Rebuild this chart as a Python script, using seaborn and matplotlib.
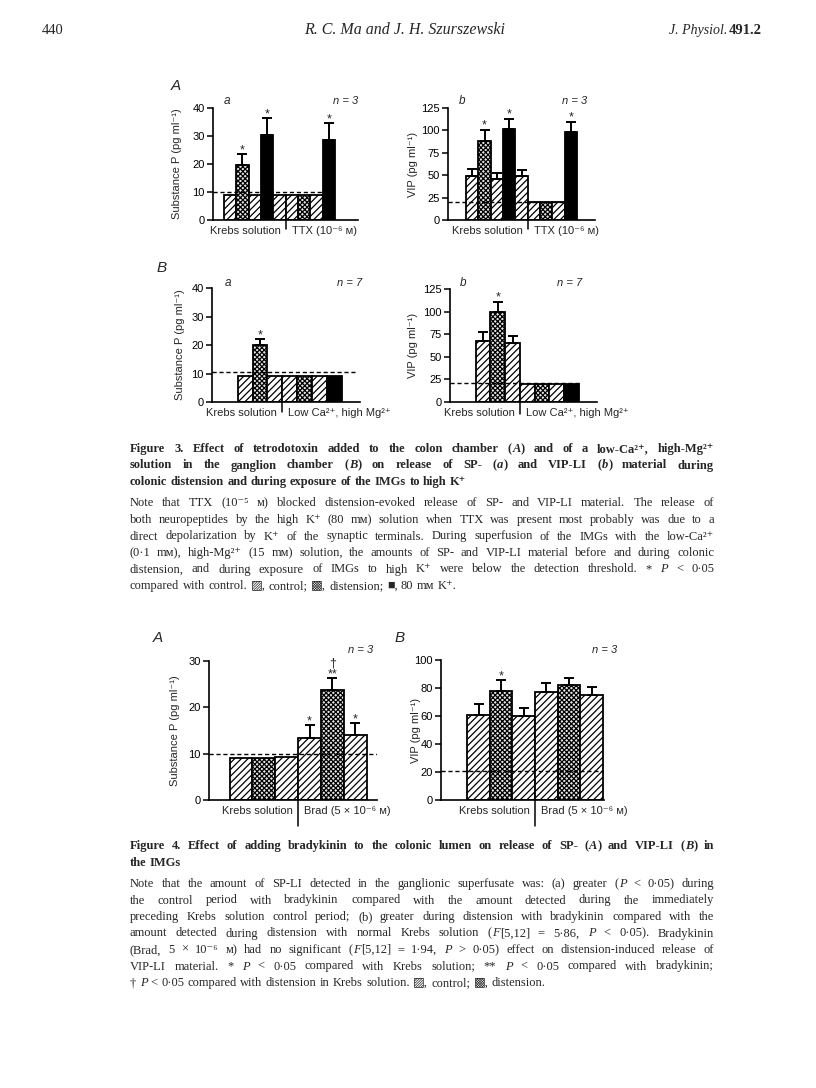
import numpy as np
import pandas as pd
import matplotlib
matplotlib.use('Agg')
import matplotlib.pyplot as plt
import seaborn as sns

W, H = 816, 1088

# ------------------------------------------------------------------
# data (pg/ml, mean and upper s.e.m.)
# ------------------------------------------------------------------
CTRL, DIST, K80 = 'control', 'distension', 'K80'

# Figure 3A: Krebs solution then TTX
fig3a_cond = [CTRL, DIST, CTRL, K80, CTRL, CTRL, DIST, CTRL, K80]
fig3a_sp = [9.0, 19.6, 9.0, 30.2, 9.0, 9.1, 9.1, 9.1, 28.5]
fig3a_sp_err = [0, 3.9, 0, 6.2, 0, 0, 0, 0, 6.1]
fig3a_sp_sig = ['', '*', '', '*', '', '', '', '', '*']
fig3a_vip = [49.3, 88.0, 45.9, 101.5, 49.0, 20.3, 20.3, 20.3, 97.9]
fig3a_vip_err = [7.4, 12.8, 6.3, 11.5, 6.6, 0, 0, 0, 11.8]
fig3a_vip_sig = ['', '*', '', '*', '', '', '', '', '*']
fig3a_groups = ['Krebs solution', 'TTX (10⁻⁶ ᴍ)']
fig3a_group_sizes = [5, 4]
fig3a_sp_thr = 10.1
fig3a_vip_thr = 20.4

# Figure 3B: Krebs solution then low Ca / high Mg
fig3b_cond = [CTRL, DIST, CTRL, CTRL, DIST, CTRL, K80]
fig3b_sp = [9.2, 20.0, 9.2, 9.2, 9.2, 9.2, 9.2]
fig3b_sp_err = [0, 2.0, 0, 0, 0, 0, 0]
fig3b_sp_sig = ['', '*', '', '', '', '', '']
fig3b_vip = [67.9, 100.1, 64.9, 20.4, 20.4, 20.4, 20.4]
fig3b_vip_err = [10.0, 10.8, 8.5, 0, 0, 0, 0]
fig3b_vip_sig = ['', '*', '', '', '', '', '']
fig3b_groups = ['Krebs solution', 'Low Ca²⁺, high Mg²⁺']
fig3b_group_sizes = [3, 4]
fig3b_sp_thr = 10.6
fig3b_vip_thr = 21.5

# Figure 4: Krebs solution then bradykinin
fig4_cond = [CTRL, DIST, CTRL, CTRL, DIST, CTRL]
fig4_sp = [9.0, 9.0, 9.2, 13.3, 23.8, 14.1]
fig4_sp_err = [0, 0, 0, 2.9, 2.5, 2.5]
fig4_sp_sig = ['', '', '', '*', '†\n**', '*']
fig4_vip = [60.7, 77.9, 60.0, 76.9, 82.1, 75.0]
fig4_vip_err = [7.9, 7.8, 5.9, 6.9, 5.3, 6.0]
fig4_vip_sig = ['', '*', '', '', '', '']
fig4_groups = ['Krebs solution', 'Brad (5 × 10⁻⁶ ᴍ)']
fig4_group_sizes = [3, 3]
fig4_sp_thr = 10.0
fig4_vip_thr = 20.5

SP_LABEL = 'Substance P (pg ml⁻¹)'
VIP_LABEL = 'VIP (pg ml⁻¹)'

# caption text, "~" toggles italics
fig3_title = [
    'Figure 3. Effect of tetrodotoxin added to the colon chamber (~A~) and of a low-Ca²⁺, high-Mg²⁺',
    'solution in the ganglion chamber (~B~) on release of SP- (~a~) and VIP-LI (~b~) material during',
    'colonic distension and during exposure of the IMGs to high K⁺',
]
fig3_body = [
    'Note that TTX (10⁻⁵ ᴍ) blocked distension-evoked release of SP- and VIP-LI material. The release of',
    'both neuropeptides by the high K⁺ (80 mᴍ) solution when TTX was present most probably was due to a',
    'direct depolarization by K⁺ of the synaptic terminals. During superfusion of the IMGs with the low-Ca²⁺',
    '(0·1 mᴍ), high-Mg²⁺ (15 mᴍ) solution, the amounts of SP- and VIP-LI material before and during colonic',
    'distension, and during exposure of IMGs to high K⁺ were below the detection threshold. * ~P~ < 0·05',
    'compared with control. ▨, control; ▩, distension; ■, 80 mᴍ K⁺.',
]
fig4_title = [
    'Figure 4. Effect of adding bradykinin to the colonic lumen on release of SP- (~A~) and VIP-LI (~B~) in',
    'the IMGs',
]
fig4_body = [
    'Note that the amount of SP-LI detected in the ganglionic superfusate was: (a) greater (~P~ < 0·05) during',
    'the control period with bradykinin compared with the amount detected during the immediately',
    'preceding Krebs solution control period; (b) greater during distension with bradykinin compared with the',
    'amount detected during distension with normal Krebs solution (~F~[5,12] = 5·86, ~P~ < 0·05). Bradykinin',
    '(Brad, 5 × 10⁻⁶ ᴍ) had no significant (~F~[5,12] = 1·94, ~P~ > 0·05) effect on distension-induced release of',
    'VIP-LI material. * ~P~ < 0·05 compared with Krebs solution; ** ~P~ < 0·05 compared with bradykinin;',
    '† ~P~ < 0·05 compared with distension in Krebs solution. ▨, control; ▩, distension.',
]

# ------------------------------------------------------------------
# style
# ------------------------------------------------------------------
SANS = ['Liberation Sans', 'DejaVu Sans']
SERIF = ['Liberation Serif', 'DejaVu Serif', 'DejaVu Sans']
sns.set_theme(style='white')
plt.rcParams['font.family'] = SANS
plt.rcParams['hatch.linewidth'] = 0.9
HATCH = {CTRL: '/////', DIST: 'xxxxxxx', K80: ''}

fig = plt.figure(figsize=(W / 100, H / 100), dpi=100)
fig.patch.set_facecolor('white')


def fx(x, y):
    return x / W, 1 - y / H


def draw_panel(rect, xlim, yticks, ylabel, ylabel_x, cond, vals, errs, sig,
               groups, sizes, thr, thr_end, sep_len, tag, tag_xy, n_text, n_xy):
    l, t, r, b = rect
    ax = fig.add_axes([l / W, 1 - b / H, (r - l) / W, (b - t) / H])
    ax.set_facecolor('none')
    df = pd.DataFrame({'bar': np.arange(len(vals)), 'value': vals})
    sns.barplot(data=df, x='bar', y='value', ax=ax, color='white', saturation=1,
                edgecolor='black', linewidth=1.3, width=1.0, errorbar=None)
    for patch, c in zip(ax.patches, cond):
        patch.set_hatch(HATCH[c])
        if c == K80:
            patch.set_facecolor('black')
        elif c == DIST:
            patch.set_facecolor('#e6e6e6')

    x = np.arange(len(vals))
    v = np.asarray(vals, float)
    e = np.asarray(errs, float)
    m = e > 0
    ax.errorbar(x[m], v[m], yerr=[np.zeros(m.sum()), e[m]], fmt='none',
                ecolor='black', elinewidth=1.4, capsize=3.5, capthick=1.4, zorder=4)
    for xi, vi, ei, s in zip(x, v, e, sig):
        if s:
            ax.annotate(s, (xi, vi + ei), xytext=(0, 1), textcoords='offset pixels',
                        ha='center', va='baseline', fontsize=9, linespacing=0.85,
                        annotation_clip=False)

    ax.hlines(thr, xlim[0], thr_end, colors='black', linestyles=(0, (3, 2)),
              linewidth=1.0, zorder=5)

    ax.set_xlim(*xlim)
    ax.set_ylim(0, yticks[-1])
    ax.set_yticks(yticks)
    ax.set_xticks([])
    ax.set_xlabel('')
    ax.set_ylabel('')
    for s in ['top', 'right']:
        ax.spines[s].set_visible(False)
    for s in ['left', 'bottom']:
        ax.spines[s].set_linewidth(1.2)
        ax.spines[s].set_color('black')
    ax.tick_params(axis='y', left=True, direction='out', length=4, width=1.1,
                   labelsize=8, pad=2, colors='black')

    # group separator and group names under the axis
    sep = sizes[0] - 0.5
    ax.plot([sep, sep], [0, -sep_len / (b - t)], transform=ax.get_xaxis_transform(),
            color='black', lw=1.1, clip_on=False)
    ax.annotate(groups[0], (sep, 0), xycoords=('data', 'axes fraction'), xytext=(-5, -11),
                textcoords='offset pixels', ha='right', va='center', fontsize=8)
    ax.annotate(groups[1], (sep, 0), xycoords=('data', 'axes fraction'), xytext=(6, -11),
                textcoords='offset pixels', ha='left', va='center', fontsize=8)

    fig.text(*fx(ylabel_x, (t + b) / 2), ylabel, rotation=90, ha='center', va='center', fontsize=8)
    if tag:
        fig.text(*fx(*tag_xy), tag, ha='center', va='center', fontsize=8.5, fontstyle='italic')
    fig.text(*fx(*n_xy), n_text, ha='center', va='center', fontsize=8, fontstyle='italic')
    return ax


# Figure 3A
draw_panel((213, 108, 358, 220), (-1.39, 10.37), [0, 10, 20, 30, 40], SP_LABEL, 177,
           fig3a_cond, fig3a_sp, fig3a_sp_err, fig3a_sp_sig, fig3a_groups, fig3a_group_sizes,
           fig3a_sp_thr, 7.5, 9, 'a', (227, 101), 'n = 3', (346, 101))
draw_panel((448, 108, 595, 220), (-1.96, 9.96), [0, 25, 50, 75, 100, 125], VIP_LABEL, 413,
           fig3a_cond, fig3a_vip, fig3a_vip_err, fig3a_vip_sig, fig3a_groups, fig3a_group_sizes,
           fig3a_vip_thr, 7.5, 9, 'b', (462, 101), 'n = 3', (575, 101))
# Figure 3B
draw_panel((212, 288, 360, 402), (-2.22, 7.71), [0, 10, 20, 30, 40], SP_LABEL, 180,
           fig3b_cond, fig3b_sp, fig3b_sp_err, fig3b_sp_sig, fig3b_groups, fig3b_group_sizes,
           fig3b_sp_thr, 7.37, 10, 'a', (228, 283), 'n = 7', (350, 283))
draw_panel((450, 289, 597, 402), (-2.24, 7.72), [0, 25, 50, 75, 100, 125], VIP_LABEL, 413,
           fig3b_cond, fig3b_vip, fig3b_vip_err, fig3b_vip_sig, fig3b_groups, fig3b_group_sizes,
           fig3b_vip_thr, 6.5, 12, 'b', (463, 283), 'n = 7', (570, 283))
# Figure 4
draw_panel((209, 661, 377, 800), (-1.40, 5.95), [0, 10, 20, 30], SP_LABEL, 175,
           fig4_cond, fig4_sp, fig4_sp_err, fig4_sp_sig, fig4_groups, fig4_group_sizes,
           fig4_sp_thr, 5.95, 26, '', None, 'n = 3', (361, 650))
draw_panel((441, 660, 604, 800), (-1.66, 5.55), [0, 20, 40, 60, 80, 100], VIP_LABEL, 416,
           fig4_cond, fig4_vip, fig4_vip_err, fig4_vip_sig, fig4_groups, fig4_group_sizes,
           fig4_vip_thr, 5.55, 26, '', None, 'n = 3', (605, 650))

# panel letters
for letter, xy in [('A', (176, 86)), ('B', (162, 268)), ('A', (158, 638)), ('B', (400, 638))]:
    fig.text(*fx(*xy), letter, ha='center', va='center', fontsize=11, fontstyle='italic')

# running head
fig.text(*fx(42, 34), '440', family=SERIF, fontsize=10.5, va='baseline', ha='left')
fig.text(*fx(405, 34), 'R. C. Ma and J. H. Szurszewski', family=SERIF, fontsize=11.5,
         fontstyle='italic', va='baseline', ha='center')
renderer = fig.canvas.get_renderer()
vol = fig.text(*fx(762, 34), '491.2', family=SERIF, fontsize=10.5, fontweight='bold',
               va='baseline', ha='right')
vw = vol.get_window_extent(renderer).width
fig.text(*fx(762 - vw - 2, 34), 'J. Physiol.', family=SERIF, fontsize=10, fontstyle='italic',
         va='baseline', ha='right')

# captions, justified word by word
CAP_L, CAP_R = 130, 714
LEAD = 16.5


def put_line(y, line, size, weight='normal', justify=True):
    words = []
    for w in line.split(' '):
        parts = []
        for k, seg in enumerate(w.split('~')):
            if seg:
                t = fig.text(0, 0, seg, family=SERIF, fontsize=size, fontweight=weight,
                             fontstyle='italic' if k % 2 else 'normal', va='baseline', ha='left')
                parts.append((t, t.get_window_extent(renderer).width))
        words.append(parts)
    widths = [sum(p[1] for p in wd) for wd in words]
    gap = size * 100 / 72 * 0.27
    if justify and len(words) > 1:
        gap = max(1.5, (CAP_R - CAP_L - sum(widths)) / (len(words) - 1))
    x = CAP_L
    for parts, wd in zip(words, widths):
        xx = x
        for t, wp in parts:
            t.set_position(fx(xx, y))
            xx += wp + 0.4
        x += wd + gap


def put_block(y0, title, body, gap_after_title=21.5):
    y = y0
    for i, ln in enumerate(title):
        put_line(y, ln, 9, 'bold', justify=i < len(title) - 1)
        y += LEAD
    y += gap_after_title - LEAD
    for i, ln in enumerate(body):
        put_line(y, ln, 9, justify=i < len(body) - 1)
        y += LEAD


put_block(452, fig3_title, fig3_body)
put_block(849, fig4_title, fig4_body)

fig.savefig('out.png', dpi=100, facecolor='white')
